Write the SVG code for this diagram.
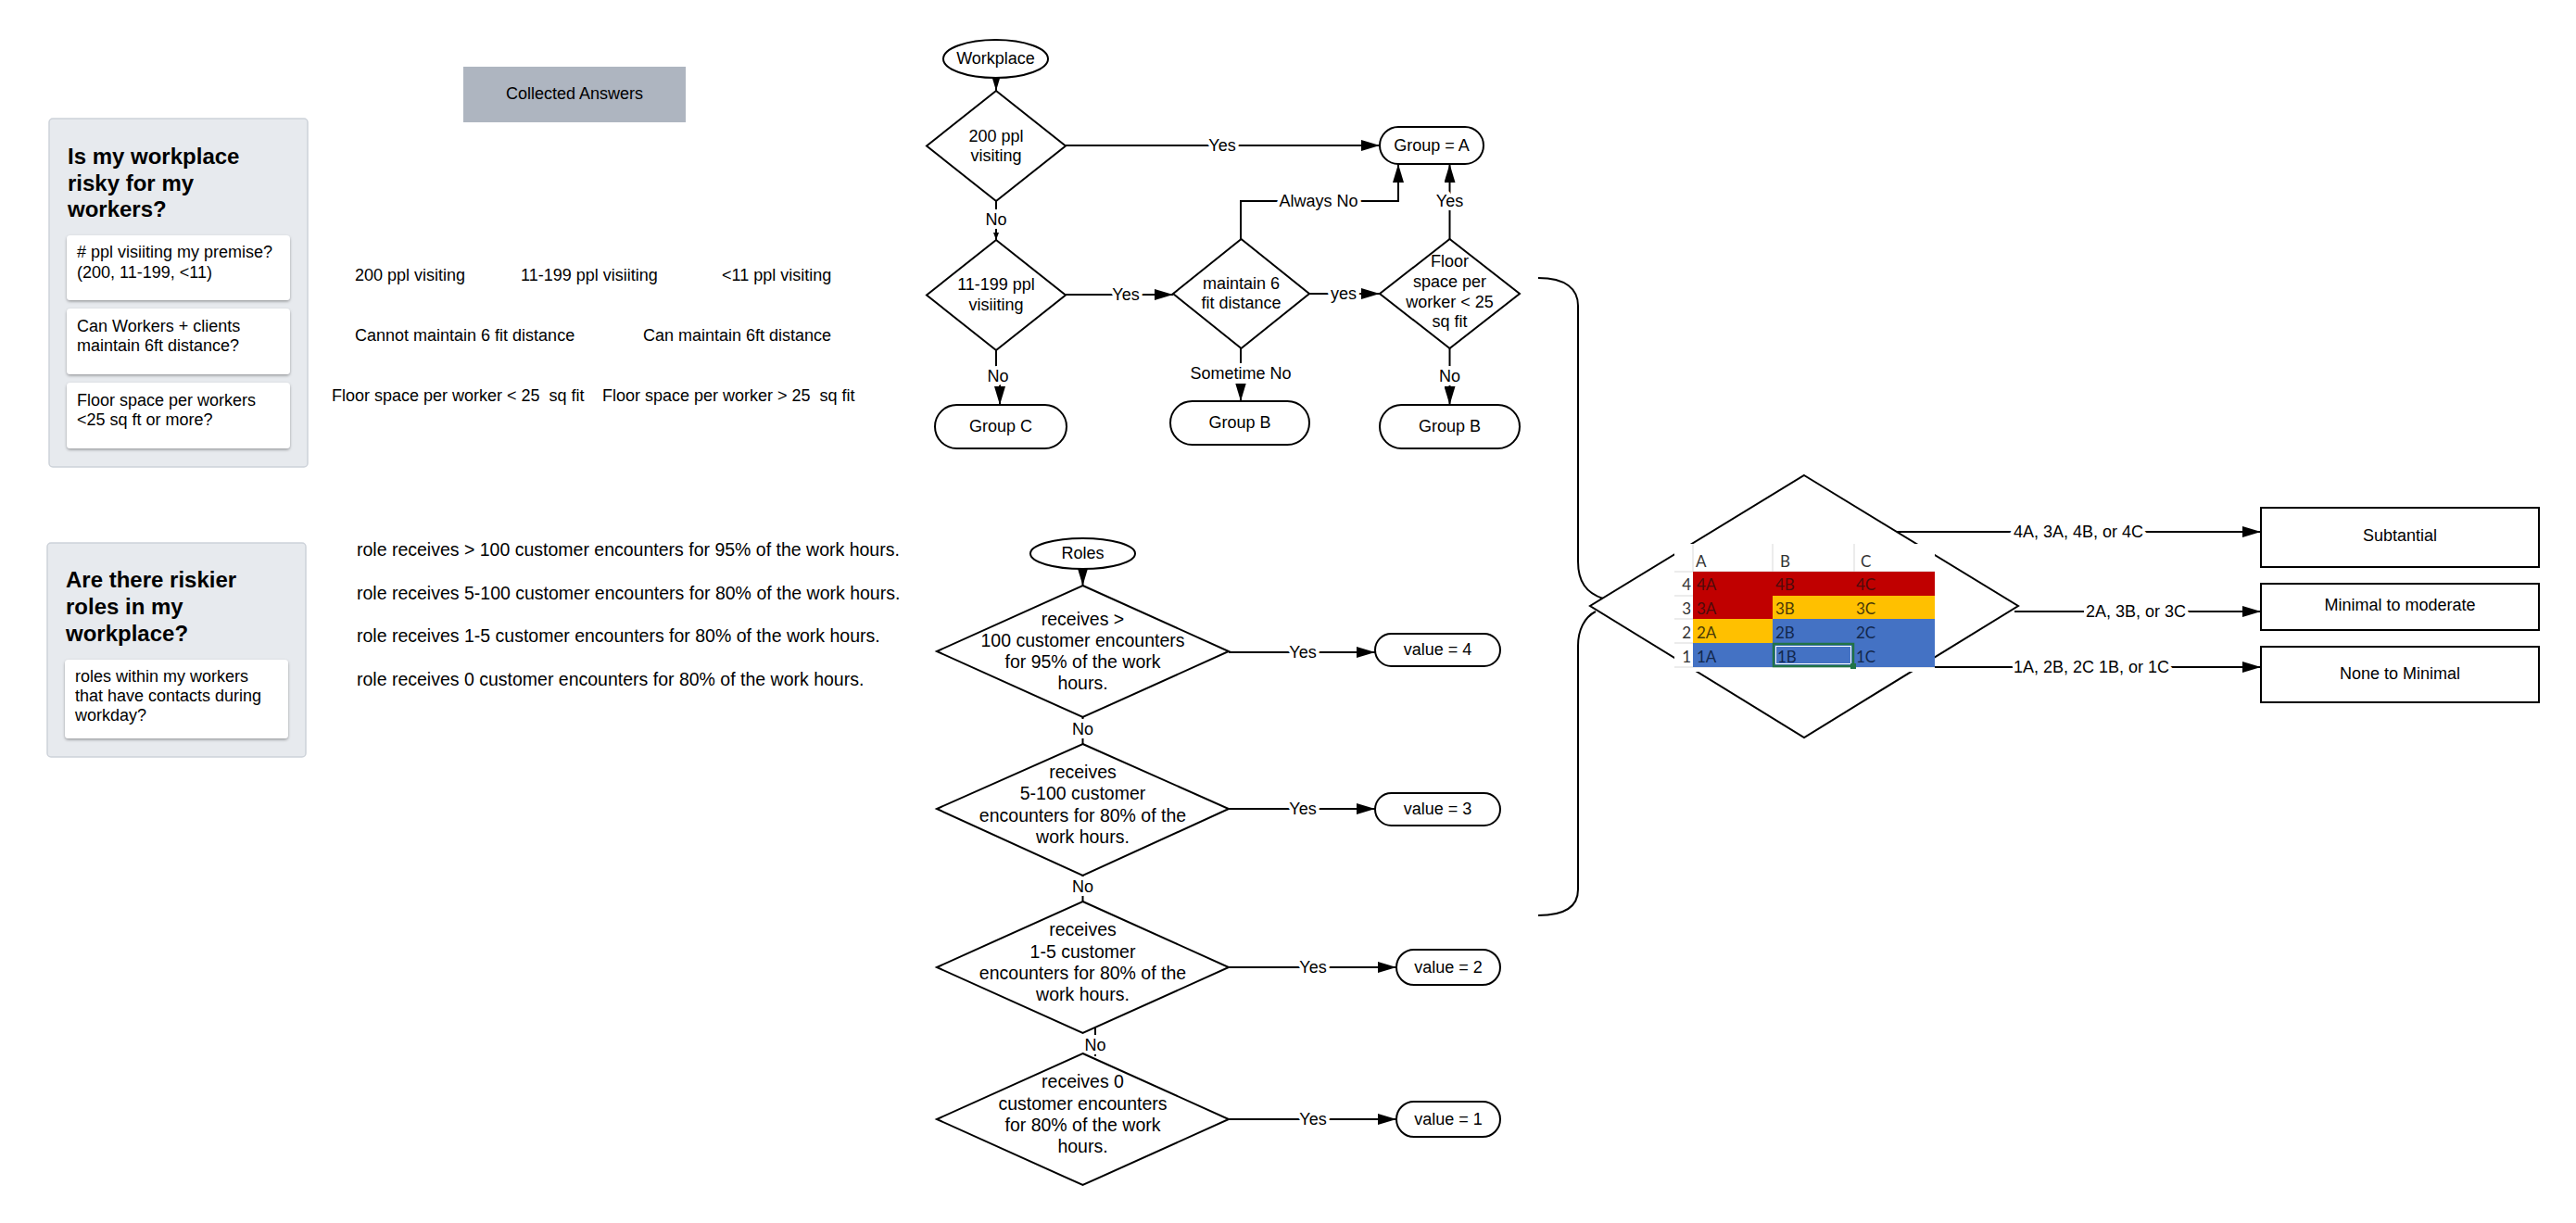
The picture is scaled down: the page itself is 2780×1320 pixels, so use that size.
<svg xmlns="http://www.w3.org/2000/svg" width="2780" height="1320" viewBox="0 0 2780 1320">
<style>
text{font-family:"Liberation Sans",Arial,sans-serif;font-size:18px;fill:#000}
.c{text-anchor:middle}
.h{font-weight:bold;font-size:24px}
.r{font-size:19.5px}
.pre{white-space:pre}
.lbl{paint-order:stroke;stroke:#fff;stroke-width:8px;stroke-linejoin:round;text-anchor:middle}
.lbg{fill:#fff}
.shape{fill:#fff;stroke:#000;stroke-width:2}
.panel{fill:#E7EAEE;stroke:#CDD2D9;stroke-width:1.5}
.card{fill:#fff;filter:url(#sh)}
.conn path,.conn line{fill:none;stroke:#000;stroke-width:2}
.xl{font-family:Lato,"Open Sans",sans-serif;font-size:17px}
.hdr{fill:#333}
.gl{stroke:#d9d9d9;stroke-width:1}
</style>
<defs>
<marker id="arr" markerUnits="userSpaceOnUse" markerWidth="20" markerHeight="12" refX="20" refY="6" orient="auto"><path d="M0,0 L20,6 L0,12 z" fill="#000"/></marker>
<marker id="arrS" markerUnits="userSpaceOnUse" markerWidth="8" markerHeight="6" refX="8" refY="3" orient="auto"><path d="M0,0 L8,3 L0,6 z" fill="#000"/></marker>
<filter id="sh" x="-10%" y="-10%" width="120%" height="130%"><feDropShadow dx="0" dy="1.5" stdDeviation="1.5" flood-color="#000" flood-opacity="0.35"/></filter>
</defs>
<rect width="2780" height="1320" fill="#fff"/>

<!-- Left panels -->
<g id="panel-workplace">
<rect class="panel" x="53" y="128" width="279" height="376" rx="4"/>
<text class="h" x="73" y="177">Is my workplace</text>
<text class="h" x="73" y="206">risky for my</text>
<text class="h" x="73" y="234">workers?</text>
<rect class="card" x="72" y="254" width="241" height="70" rx="4"/>
<text x="83" y="278"># ppl visiiting my premise?</text>
<text x="83" y="300">(200, 11-199, &lt;11)</text>
<rect class="card" x="72" y="333" width="241" height="71" rx="4"/>
<text x="83" y="358">Can Workers + clients</text>
<text x="83" y="379">maintain 6ft distance?</text>
<rect class="card" x="72" y="413" width="241" height="71" rx="4"/>
<text x="83" y="438">Floor space per workers</text>
<text x="83" y="459">&lt;25 sq ft or more?</text>
</g>

<g id="panel-roles">
<rect class="panel" x="51" y="586" width="279" height="231" rx="4"/>
<text class="h" x="71" y="634">Are there riskier</text>
<text class="h" x="71" y="663">roles in my</text>
<text class="h" x="71" y="692">workplace?</text>
<rect class="card" x="70" y="712" width="241" height="85" rx="4"/>
<text x="81" y="736">roles within my workers</text>
<text x="81" y="757">that have contacts during</text>
<text x="81" y="778">workday?</text>
</g>

<g id="collected-answers">
<rect x="500" y="72" width="240" height="60" fill="#AEB5C0"/>
<text class="c" x="620" y="107">Collected Answers</text>
</g>

<g id="answers">
<text x="383" y="303">200 ppl visiting</text>
<text x="562" y="303">11-199 ppl visiiting</text>
<text x="779" y="303">&lt;11 ppl visiting</text>
<text x="383" y="368">Cannot maintain 6 fit distance</text>
<text x="694" y="368">Can maintain 6ft distance</text>
<text class="pre" x="358" y="433" xml:space="preserve">Floor space per worker &lt; 25  sq fit</text>
<text class="pre" x="650" y="433" xml:space="preserve">Floor space per worker &gt; 25  sq fit</text>
</g>

<g id="role-texts">
<text class="r" x="385" y="600">role receives &gt; 100 customer encounters for 95% of the work hours.</text>
<text class="r" x="385" y="647">role receives 5-100 customer encounters for 80% of the work hours.</text>
<text class="r" x="385" y="693">role receives 1-5 customer encounters for 80% of the work hours.</text>
<text class="r" x="385" y="740">role receives 0 customer encounters for 80% of the work hours.</text>
</g>

<!-- Connectors -->
<g id="connectors" class="conn">
<line x1="1075" y1="84" x2="1075" y2="98" marker-end="url(#arr)"/>
<line x1="1150" y1="157" x2="1489" y2="157" marker-end="url(#arr)"/>
<line x1="1075" y1="217" x2="1075" y2="259" marker-end="url(#arrS)"/>
<line x1="1150" y1="318" x2="1266" y2="318" marker-end="url(#arr)"/>
<path d="M1339,258 V217 H1509 V177" marker-end="url(#arr)"/>
<line x1="1413" y1="317" x2="1489" y2="317" marker-end="url(#arr)"/>
<line x1="1564.5" y1="258" x2="1564.5" y2="177" marker-end="url(#arr)"/>
<path d="M1075,378 V406 H1079 V437" marker-end="url(#arr)"/>
<line x1="1339" y1="376" x2="1339" y2="433" marker-end="url(#arr)"/>
<line x1="1564.5" y1="376" x2="1564.5" y2="437" marker-end="url(#arr)"/>

<line x1="1168.5" y1="614" x2="1168.5" y2="632" marker-end="url(#arr)"/>
<line x1="1326" y1="704" x2="1484" y2="704" marker-end="url(#arr)"/>
<line x1="1168.5" y1="774" x2="1168.5" y2="803"/>
<line x1="1326" y1="873" x2="1484" y2="873" marker-end="url(#arr)"/>
<line x1="1168.5" y1="945" x2="1168.5" y2="973"/>
<line x1="1326" y1="1044" x2="1507" y2="1044" marker-end="url(#arr)"/>
<line x1="1182" y1="1108" x2="1182" y2="1140"/>
<line x1="1326" y1="1208" x2="1507" y2="1208" marker-end="url(#arr)"/>

<path d="M1660,300 C1690,300 1703,312 1703,330 L1703,606 C1703,628 1712,640 1730,646"/>
<path d="M1722,660 C1710,666 1703,680 1703,697 L1703,960 C1703,978 1690,988 1660,988"/>

<line x1="2046" y1="574" x2="2440" y2="574" marker-end="url(#arr)"/>
<line x1="2174" y1="660" x2="2440" y2="660" marker-end="url(#arr)"/>
<line x1="2088" y1="720" x2="2440" y2="720" marker-end="url(#arr)"/>
</g>

<g id="connector-labels">
<rect class="lbg" x="1380" y="207" width="86" height="20"/>
<rect class="lbg" x="1284" y="394" width="110" height="20"/>
<rect class="lbg" x="2172" y="564" width="142" height="20"/>
<rect class="lbg" x="2249" y="650" width="112" height="20"/>
<rect class="lbg" x="2172" y="710" width="170" height="20"/>
<text class="lbl" x="1319" y="163">Yes</text>
<text class="lbl" x="1075" y="243">No</text>
<text class="lbl" x="1215" y="324">Yes</text>
<text class="lbl" x="1423" y="223">Always No</text>
<text class="lbl" x="1450" y="323">yes</text>
<text class="lbl" x="1564.5" y="223">Yes</text>
<text class="lbl" x="1077" y="412">No</text>
<text class="lbl" x="1339" y="409">Sometime No</text>
<text class="lbl" x="1564.5" y="412">No</text>
<text class="lbl" x="1406" y="710">Yes</text>
<text class="lbl" x="1168.5" y="793">No</text>
<text class="lbl" x="1406" y="879">Yes</text>
<text class="lbl" x="1168.5" y="963">No</text>
<text class="lbl" x="1417" y="1050">Yes</text>
<text class="lbl" x="1182" y="1134">No</text>
<text class="lbl" x="1417" y="1214">Yes</text>
<text class="lbl" x="2243" y="580">4A, 3A, 4B, or 4C</text>
<text class="lbl" x="2305" y="666">2A, 3B, or 3C</text>
<text class="lbl" x="2257" y="726">1A, 2B, 2C 1B, or 1C</text>
</g>

<!-- Workplace flow -->
<g id="workplace">
<ellipse class="shape" cx="1074.5" cy="63.5" rx="56.5" ry="20.5"/>
<text class="c" x="1074.5" y="69">Workplace</text>
</g>
<g id="d-200">
<polygon class="shape" points="1075,98 1150,157.5 1075,217 1000,157.5"/>
<text class="c" x="1075" y="153">200 ppl</text>
<text class="c" x="1075" y="174">visiting</text>
</g>
<g id="d-11-199">
<polygon class="shape" points="1075,259 1150,318.5 1075,378 1000,318.5"/>
<text class="c" x="1075" y="313">11-199 ppl</text>
<text class="c" x="1075" y="335">visiiting</text>
</g>
<g id="d-maintain">
<polygon class="shape" points="1339.5,258 1413,317 1339.5,376 1266,317"/>
<text class="c" x="1339.5" y="312">maintain 6</text>
<text class="c" x="1339.5" y="333">fit distance</text>
</g>
<g id="d-floor">
<polygon class="shape" points="1564.5,258 1640,317 1564.5,376 1489,317"/>
<text class="c" x="1564.5" y="288">Floor</text>
<text class="c" x="1564.5" y="310">space per</text>
<text class="c" x="1564.5" y="332">worker &lt; 25</text>
<text class="c" x="1564.5" y="353">sq fit</text>
</g>
<g id="group-a">
<rect class="shape" x="1489" y="137" width="112" height="40" rx="20"/>
<text class="c" x="1545" y="163">Group = A</text>
</g>
<g id="group-c">
<rect class="shape" x="1009" y="437" width="142" height="47" rx="23.5"/>
<text class="c" x="1080" y="466">Group C</text>
</g>
<g id="group-b1">
<rect class="shape" x="1263" y="433" width="150" height="47" rx="23.5"/>
<text class="c" x="1338" y="462">Group B</text>
</g>
<g id="group-b2">
<rect class="shape" x="1489" y="437" width="151" height="47" rx="23.5"/>
<text class="c" x="1564.5" y="466">Group B</text>
</g>

<!-- Roles flow -->
<g id="roles">
<ellipse class="shape" cx="1168.5" cy="597.5" rx="56.5" ry="16.5"/>
<text class="c" x="1168.5" y="603">Roles</text>
</g>
<g id="r1">
<polygon class="shape" points="1168.5,632 1326,703 1168.5,774 1011,703"/>
<text class="c r" x="1168.5" y="675">receives &gt;</text>
<text class="c r" x="1168.5" y="698">100 customer encounters</text>
<text class="c r" x="1168.5" y="721">for 95% of the work</text>
<text class="c r" x="1168.5" y="744">hours.</text>
</g>
<g id="r2">
<polygon class="shape" points="1168.5,803 1326,873 1168.5,945 1011,873"/>
<text class="c r" x="1168.5" y="840">receives</text>
<text class="c r" x="1168.5" y="863">5-100 customer</text>
<text class="c r" x="1168.5" y="887">encounters for 80% of the</text>
<text class="c r" x="1168.5" y="910">work hours.</text>
</g>
<g id="r3">
<polygon class="shape" points="1168.5,973 1326,1044 1168.5,1115 1011,1044"/>
<text class="c r" x="1168.5" y="1010">receives</text>
<text class="c r" x="1168.5" y="1034">1-5 customer</text>
<text class="c r" x="1168.5" y="1057">encounters for 80% of the</text>
<text class="c r" x="1168.5" y="1080">work hours.</text>
</g>
<g id="r4">
<polygon class="shape" points="1168.5,1137 1326,1208 1168.5,1279 1011,1208"/>
<text class="c r" x="1168.5" y="1174">receives 0</text>
<text class="c r" x="1168.5" y="1198">customer encounters</text>
<text class="c r" x="1168.5" y="1221">for 80% of the work</text>
<text class="c r" x="1168.5" y="1244">hours.</text>
</g>
<g id="v4">
<rect class="shape" x="1484" y="684" width="135" height="35" rx="17.5"/>
<text class="c" x="1551.5" y="707">value = 4</text>
</g>
<g id="v3">
<rect class="shape" x="1484" y="856" width="135" height="35" rx="17.5"/>
<text class="c" x="1551.5" y="879">value = 3</text>
</g>
<g id="v2">
<rect class="shape" x="1507" y="1025" width="112" height="38" rx="19"/>
<text class="c" x="1563" y="1050">value = 2</text>
</g>
<g id="v1">
<rect class="shape" x="1507" y="1189" width="112" height="38" rx="19"/>
<text class="c" x="1563" y="1214">value = 1</text>
</g>

<!-- Risk matrix diamond -->
<g id="matrix">
<polygon class="shape" points="1947,513 2178,654 1947,796 1716,654"/>
<rect x="1807" y="587" width="281" height="138" fill="#fff"/>
<line class="gl" x1="1827" y1="587" x2="1827" y2="617"/>
<line class="gl" x1="1913" y1="587" x2="1913" y2="617"/>
<line class="gl" x1="2001" y1="587" x2="2001" y2="617"/>
<line class="gl" x1="1807" y1="617" x2="2088" y2="617"/>
<line class="gl" x1="1807" y1="643" x2="1827" y2="643"/>
<line class="gl" x1="1807" y1="668" x2="1827" y2="668"/>
<line class="gl" x1="1807" y1="694" x2="1827" y2="694"/>
<line class="gl" x1="1807" y1="720" x2="2088" y2="720"/>
<rect x="1827" y="617" width="261" height="26" fill="#C00000"/>
<rect x="1827" y="643" width="86" height="25" fill="#C00000"/>
<rect x="1913" y="643" width="175" height="25" fill="#FFC000"/>
<rect x="1827" y="668" width="86" height="26" fill="#FFC000"/>
<rect x="1913" y="668" width="175" height="26" fill="#4472C4"/>
<rect x="1827" y="694" width="261" height="26" fill="#4472C4"/>
<rect x="1914" y="695" width="86" height="24" fill="none" stroke="#217346" stroke-width="2.5"/>
<rect x="1916.5" y="697.5" width="81" height="19" fill="none" stroke="#fff" stroke-width="1"/>
<rect x="1997" y="716" width="6" height="6" fill="#217346"/>
<text class="xl hdr" x="1830" y="612">A</text>
<text class="xl hdr" x="1921" y="612">B</text>
<text class="xl hdr" x="2008" y="612">C</text>
<text class="xl hdr" x="1825" y="637" text-anchor="end">4</text>
<text class="xl hdr" x="1825" y="663" text-anchor="end">3</text>
<text class="xl hdr" x="1825" y="689" text-anchor="end">2</text>
<text class="xl hdr" x="1825" y="715" text-anchor="end">1</text>
<text class="xl" x="1831" y="637" style="fill:#4d0b0b">4A</text>
<text class="xl" x="1916" y="637" style="fill:#4d0b0b">4B</text>
<text class="xl" x="2003" y="637" style="fill:#4d0b0b">4C</text>
<text class="xl" x="1831" y="663" style="fill:#4d0b0b">3A</text>
<text class="xl" x="1916" y="663" style="fill:#4a3a08">3B</text>
<text class="xl" x="2003" y="663" style="fill:#4a3a08">3C</text>
<text class="xl" x="1831" y="689" style="fill:#4a3a08">2A</text>
<text class="xl" x="1916" y="689" style="fill:#13284d">2B</text>
<text class="xl" x="2003" y="689" style="fill:#13284d">2C</text>
<text class="xl" x="1831" y="715" style="fill:#13284d">1A</text>
<text class="xl" x="1918" y="715" style="fill:#13284d">1B</text>
<text class="xl" x="2003" y="715" style="fill:#13284d">1C</text>
</g>

<g id="subtantial">
<rect class="shape" x="2440" y="548" width="300" height="64"/>
<text class="c" x="2590" y="584">Subtantial</text>
</g>
<g id="minimal-moderate">
<rect class="shape" x="2440" y="630" width="300" height="50"/>
<text class="c" x="2590" y="659">Minimal to moderate</text>
</g>
<g id="none-minimal">
<rect class="shape" x="2440" y="698" width="300" height="60"/>
<text class="c" x="2590" y="733">None to Minimal</text>
</g>
</svg>
